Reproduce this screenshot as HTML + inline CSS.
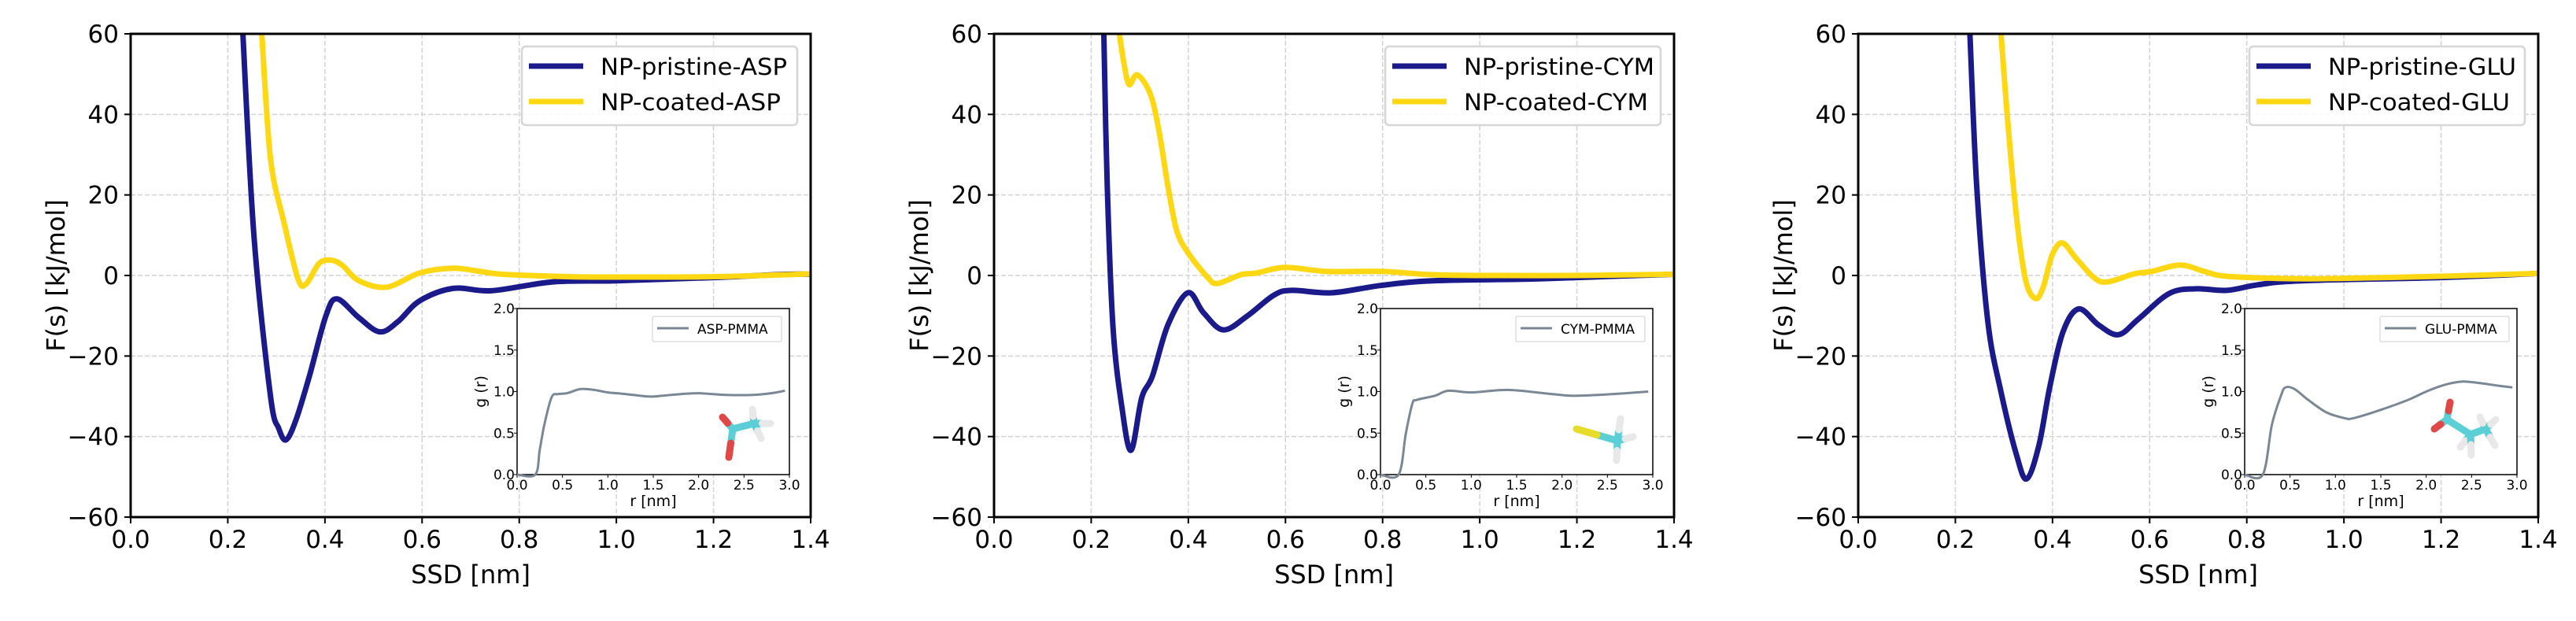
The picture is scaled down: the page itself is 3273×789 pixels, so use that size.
<!DOCTYPE html>
<html><head><meta charset="utf-8">
<style>
html,body{margin:0;padding:0;background:#fff;}
svg{display:block;font-family:"DejaVu Sans","Liberation Sans",sans-serif;}
</style></head>
<body>
<svg id="fig" width="3273" height="789" viewBox="0 0 3273 789" xmlns="http://www.w3.org/2000/svg"></svg>
<script>
// ---- data ----
const panelNames = ["ASP", "CYM", "GLU"];
const xTicks = [0.0, 0.2, 0.4, 0.6, 0.8, 1.0, 1.2, 1.4];
const yTicks = [-60, -40, -20, 0, 20, 40, 60];
const insetXTicks = [0.0, 0.5, 1.0, 1.5, 2.0, 2.5, 3.0];
const insetYTicks = [0.0, 0.5, 1.0, 1.5, 2.0];

const aspPristineX = [0.231,0.254,0.288,0.305,0.320,0.340,0.368,0.402,0.425,0.47,0.513,0.55,0.595,0.664,0.743,0.868,1.0,1.2,1.35,1.4];
const aspPristineY = [60,9.5,-30,-38,-40.8,-36,-25,-10,-5.8,-10.5,-14,-11.5,-6.3,-3.2,-3.8,-1.6,-1.3,-0.5,0.3,0.3];
const aspCoatedX = [0.27,0.288,0.316,0.345,0.362,0.388,0.413,0.436,0.47,0.527,0.595,0.663,0.72,0.766,0.9,1.0,1.2,1.4];
const aspCoatedY = [60,29,13,-1,-2,3,3.8,2.5,-1.3,-2.9,0.6,1.8,1,0.3,-0.3,-0.4,-0.3,0.4];

const cymPristineX = [0.226,0.233,0.245,0.263,0.282,0.304,0.326,0.358,0.399,0.431,0.472,0.522,0.576,0.613,0.695,0.795,0.904,1.1,1.2,1.4];
const cymPristineY = [60,22.6,-13,-32.5,-43.4,-30.4,-25,-12.3,-4.3,-9.2,-13.5,-10,-4.9,-3.7,-4.3,-2.5,-1.3,-0.9,-0.5,0.3];
const cymCoatedX = [0.258,0.267,0.278,0.295,0.322,0.34,0.358,0.376,0.399,0.44,0.46,0.508,0.54,0.599,0.685,0.8,0.9,1.0,1.2,1.4];
const cymCoatedY = [60,53,47.4,49.8,45,35.6,22.2,11.2,5.7,-0.5,-2,0.2,0.6,2,1,1,0.2,0,0,0.3];

const gluPristineX = [0.23,0.244,0.267,0.294,0.326,0.347,0.372,0.395,0.422,0.454,0.495,0.536,0.577,0.64,0.695,0.759,0.823,0.914,1.2,1.4];
const gluPristineY = [60,22,-11.6,-28.9,-44.6,-50.5,-42.2,-27.3,-13.9,-8.3,-12.3,-14.7,-10.8,-4.5,-3.3,-3.7,-2.3,-1.3,-0.5,0.5];
const gluCoatedX = [0.294,0.308,0.326,0.345,0.365,0.381,0.399,0.42,0.449,0.486,0.513,0.568,0.604,0.663,0.713,0.759,0.9,1.0,1.2,1.4];
const gluCoatedY = [60,38,14.4,-1.3,-5.7,-2.9,5,8.1,4.2,-0.6,-1.6,0.4,1,2.6,1,-0.2,-0.8,-0.7,-0.2,0.5];

const aspRdfX = [0,0.2,0.25,0.3,0.38,0.45,0.55,0.7,0.85,1.0,1.2,1.45,1.6,1.8,2.0,2.3,2.6,2.8,2.95];
const aspRdfY = [0,0,0.3,0.6,0.93,0.97,0.98,1.03,1.02,0.99,0.97,0.94,0.95,0.97,0.98,0.96,0.96,0.98,1.01];
const cymRdfX = [0,0.2,0.28,0.35,0.4,0.6,0.75,1.0,1.4,1.8,2.1,2.4,2.7,2.95];
const cymRdfY = [0,0,0.5,0.85,0.9,0.95,1.01,0.99,1.02,0.98,0.95,0.96,0.98,1.0];
const gluRdfX = [0,0.2,0.3,0.4,0.45,0.55,0.7,0.9,1.1,1.2,1.5,1.8,2.0,2.2,2.4,2.6,2.8,2.95];
const gluRdfY = [0,0,0.6,0.95,1.05,1.03,0.9,0.75,0.68,0.68,0.78,0.9,1.0,1.08,1.12,1.1,1.07,1.05];

const pristineX = [aspPristineX, cymPristineX, gluPristineX];
const pristineY = [aspPristineY, cymPristineY, gluPristineY];
const coatedX = [aspCoatedX, cymCoatedX, gluCoatedX];
const coatedY = [aspCoatedY, cymCoatedY, gluCoatedY];
const rdfX = [aspRdfX, cymRdfX, gluRdfX];
const rdfY = [aspRdfY, cymRdfY, gluRdfY];

// ---- drawing ----
const NS = "http://www.w3.org/2000/svg";
const fig = document.getElementById("fig");
function mk(tag, attrs, parent) {
  const e = document.createElementNS(NS, tag);
  for (const k in attrs) e.setAttribute(k, attrs[k]);
  (parent || fig).appendChild(e);
  return e;
}
function smoothPath(pts) {
  let d = "M" + pts[0][0].toFixed(1) + "," + pts[0][1].toFixed(1);
  for (let i = 0; i < pts.length - 1; i++) {
    const p0 = pts[Math.max(0, i - 1)], p1 = pts[i], p2 = pts[i + 1], p3 = pts[Math.min(pts.length - 1, i + 2)];
    const c1x = p1[0] + (p2[0] - p0[0]) / 6, c1y = p1[1] + (p2[1] - p0[1]) / 6;
    const c2x = p2[0] - (p3[0] - p1[0]) / 6, c2y = p2[1] - (p3[1] - p1[1]) / 6;
    d += " C" + c1x.toFixed(1) + "," + c1y.toFixed(1) + " " + c2x.toFixed(1) + "," + c2y.toFixed(1) + " " + p2[0].toFixed(1) + "," + p2[1].toFixed(1);
  }
  return d;
}
const panelLefts = [166, 1263, 2361];
const PW = 864, TOP = 43, BOT = 657;
const legendTextLen = [237, 242, 239];

panelNames.forEach((nm, pi) => {
  const L = panelLefts[pi], R = L + PW;
  const g = mk("g", {});
  
  
  const sx = v => L + (v / 1.4) * PW;
  const sy = v => TOP + (60 - v) / 120 * (BOT - TOP);
  const clipId = "clip" + pi;
  const cp = mk("clipPath", { id: clipId }, g);
  mk("rect", { x: L, y: TOP, width: PW, height: BOT - TOP }, cp);
  xTicks.forEach(t => {
    const ln = mk("line", { x1: sx(t), x2: sx(t), y1: TOP, y2: BOT, stroke: "#d3d3d3", "stroke-width": 1.5, "stroke-dasharray": "6,3" }, g);
    
    
  });
  yTicks.forEach(t => {
    const ln = mk("line", { x1: L, x2: R, y1: sy(t), y2: sy(t), stroke: "#d3d3d3", "stroke-width": 1.5, "stroke-dasharray": "6,3" }, g);
    
    
  });
  const cg = mk("g", { "clip-path": "url(#" + clipId + ")" }, g);
  const pp = pristineX[pi].map((x, i) => [sx(x), sy(pristineY[pi][i])]);
  const pl = mk("path", { d: smoothPath(pp), fill: "none", stroke: "#1a1a8a", "stroke-width": 7, "stroke-linejoin": "round" }, cg);
  
  
  const cpts = coatedX[pi].map((x, i) => [sx(x), sy(coatedY[pi][i])]);
  const cl = mk("path", { d: smoothPath(cpts), fill: "none", stroke: "#ffd712", "stroke-width": 7, "stroke-linejoin": "round" }, cg);
  
  
  const box = mk("rect", { x: L, y: TOP, width: PW, height: BOT - TOP, fill: "none", stroke: "#000", "stroke-width": 3 }, g);
  
  
  xTicks.forEach(t => {
    mk("line", { x1: sx(t), x2: sx(t), y1: BOT, y2: BOT + 8, stroke: "#000", "stroke-width": 2 }, g);
    const tx = mk("text", { x: sx(t), y: BOT + 39, "font-size": 31, "text-anchor": "middle", fill: "#000" }, g);
    tx.textContent = t.toFixed(1);
    
    
  });
  yTicks.forEach(t => {
    mk("line", { x1: L - 8, x2: L, y1: sy(t), y2: sy(t), stroke: "#000", "stroke-width": 2 }, g);
    const tx = mk("text", { x: L - 15, y: sy(t) + 11, "font-size": 31, "text-anchor": "end", fill: "#000" }, g);
    tx.textContent = t < 0 ? "\u2212" + Math.abs(t) : String(t);
    
    
  });
  const xl = mk("text", { x: L + PW / 2, y: BOT + 84, "font-size": 32, "text-anchor": "middle" }, g);
  xl.textContent = "SSD [nm]";
  
  
  const yl = mk("text", { x: 0, y: 0, "font-size": 32, "text-anchor": "middle", transform: "translate(" + (L - 84) + "," + ((TOP + BOT) / 2) + ") rotate(-90)" }, g);
  yl.textContent = "F(s) [kJ/mol]";
  
  
  const lg = mk("g", {}, g);
  
  
  mk("rect", { x: L + 497, y: 59, width: 350, height: 100, rx: 5, fill: "#fff", "fill-opacity": 0.85, stroke: "#d6d6d6", "stroke-width": 2.5 }, lg);
  mk("line", { x1: L + 506, x2: L + 575, y1: 84, y2: 84, stroke: "#1a1a8a", "stroke-width": 7 }, lg);
  mk("line", { x1: L + 506, x2: L + 575, y1: 129, y2: 129, stroke: "#ffd712", "stroke-width": 7 }, lg);
  const t1 = mk("text", { x: L + 597, y: 95, "font-size": 29, textLength: legendTextLen[pi], lengthAdjust: "spacingAndGlyphs" }, lg);
  t1.textContent = "NP-pristine-" + nm;
  
  
  const t2 = mk("text", { x: L + 597, y: 140, "font-size": 29, textLength: legendTextLen[pi] - 8, lengthAdjust: "spacingAndGlyphs" }, lg);
  t2.textContent = "NP-coated-" + nm;
  
  

  const IL = L + 491, IR = L + 837, IT = 392, IB = 603;
  const ix = v => IL + v / 3 * (IR - IL);
  const iy = v => IB - v / 2 * (IB - IT);
  const ig = mk("g", {}, g);
  
  
  mk("rect", { x: IL, y: IT, width: IR - IL, height: IB - IT, fill: "#fff", stroke: "#000", "stroke-width": 1.5 }, ig);
  insetXTicks.forEach(t => {
    mk("line", { x1: ix(t), x2: ix(t), y1: IB, y2: IB + 4, stroke: "#000", "stroke-width": 1 }, ig);
    const tx = mk("text", { x: ix(t), y: IB + 19, "font-size": 17, "text-anchor": "middle" }, ig);
    tx.textContent = t.toFixed(1);
    
    
  });
  insetYTicks.forEach(t => {
    mk("line", { x1: IL - 4, x2: IL, y1: iy(t), y2: iy(t), stroke: "#000", "stroke-width": 1 }, ig);
    const tx = mk("text", { x: IL - 3, y: iy(t) + 6, "font-size": 17, "text-anchor": "end" }, ig);
    tx.textContent = t.toFixed(1);
    
    
  });
  const ixl = mk("text", { x: (IL + IR) / 2, y: IB + 40, "font-size": 19, "text-anchor": "middle" }, ig);
  ixl.textContent = "r [nm]";
  
  
  const iyl = mk("text", { x: 0, y: 0, "font-size": 19, "text-anchor": "middle", transform: "translate(" + (IL - 40) + "," + ((IT + IB) / 2) + ") rotate(-90)" }, ig);
  iyl.textContent = "g (r)";
  
  
  const rp = rdfX[pi].map((x, i) => [ix(x), iy(rdfY[pi][i])]);
  const rl = mk("path", { d: smoothPath(rp), fill: "none", stroke: "#7a8896", "stroke-width": 3 }, ig);
  
  
  mk("rect", { x: IL + 172, y: IT + 10, width: 164, height: 32, rx: 2, fill: "#fff", stroke: "#d6d6d6", "stroke-width": 1.2 }, ig);
  mk("line", { x1: IL + 178, x2: IL + 218, y1: IT + 25, y2: IT + 25, stroke: "#7a8896", "stroke-width": 3 }, ig);
  const ilt = mk("text", { x: IL + 229, y: IT + 32, "font-size": 17 }, ig);
  ilt.textContent = nm + "-PMMA";
  
  

  const mg = mk("g", { "stroke-linecap": "round", "stroke-width": 9 }, ig);
  
  
  function bond(x1, y1, x2, y2, c1, c2) {
    const mx = (x1 + x2) / 2, my = (y1 + y2) / 2;
    mk("line", { x1: x1, y1: y1, x2: mx, y2: my, stroke: c1 }, mg);
    mk("line", { x1: mx, y1: my, x2: x2, y2: y2, stroke: c2 }, mg);
  }
  const C = "#5ccfd6", O = "#e04848", H = "#e8e8e8", S = "#e8dc2a";
  if (pi === 0) {
    const a = [L + 765, 545], b = [L + 792, 538];
    bond(a[0], a[1], L + 752, 530, C, O);
    bond(a[0], a[1], L + 760, 581, C, O);
    bond(a[0], a[1], b[0], b[1], C, C);
    bond(b[0], b[1], L + 790, 520, C, H);
    bond(b[0], b[1], L + 813, 538, C, H);
    bond(b[0], b[1], L + 801, 557, C, H);
  } else if (pi === 1) {
    const b = [L + 792, 560];
    bond(b[0], b[1], L + 740, 545, C, S);
    bond(b[0], b[1], L + 796, 532, C, H);
    bond(b[0], b[1], L + 812, 555, C, H);
    bond(b[0], b[1], L + 791, 585, C, H);
  } else {
    const a = [L + 748, 533], b = [L + 778, 552], c = [L + 797, 545];
    bond(a[0], a[1], L + 752, 511, C, O);
    bond(a[0], a[1], L + 732, 545, C, O);
    bond(a[0], a[1], b[0], b[1], C, C);
    bond(b[0], b[1], L + 765, 568, C, H);
    bond(b[0], b[1], L + 779, 578, C, H);
    bond(b[0], b[1], c[0], c[1], C, C);
    bond(c[0], c[1], L + 810, 533, C, H);
    bond(c[0], c[1], L + 809, 566, C, H);
    bond(c[0], c[1], L + 790, 530, C, H);
  }
});
</script>
</body></html>
